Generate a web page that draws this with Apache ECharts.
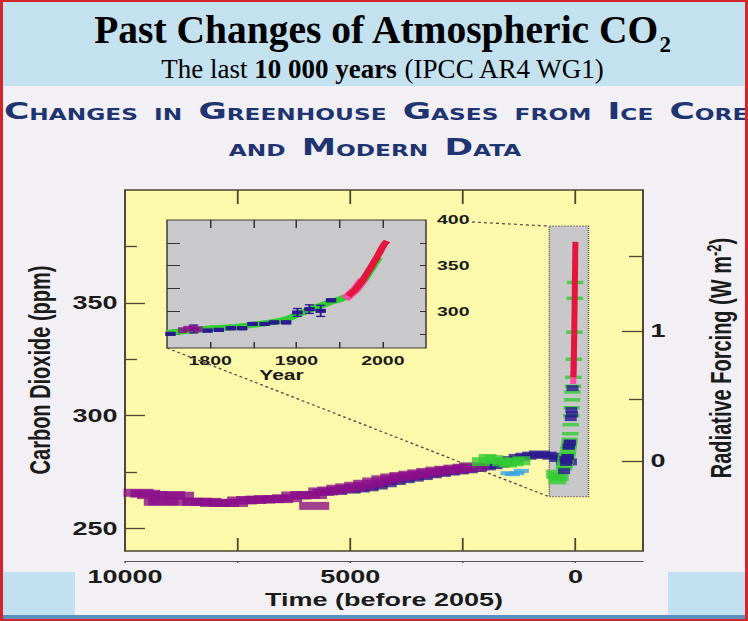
<!DOCTYPE html>
<html>
<head>
<meta charset="utf-8">
<script src="https://cdn.jsdelivr.net/npm/echarts@6/dist/echarts.min.js"></script>
<style>
    html, body { margin: 0; padding: 0; background: #f2f0f4; overflow: hidden; }
    /* the IPCC panel sits stretched sideways on the slide, so lay it out narrow and stretch it back */
    #main { width: 498.667px; height: 621px; transform: scaleX(1.5); transform-origin: 0 0; }
</style>
</head>
<body>
<div id="main"></div>
<script>
var S = 1.5;
var W = 748 / S;

// ---- main panel: ice core records, age in years before 2005, CO2 in ppm ----
var purpleAge = [9700, 9550, 9400, 9250, 9150, 9000, 8800, 8600, 8400, 8200, 8000, 7800, 7600, 7400, 7200, 7000, 6800, 6600, 6400, 6200, 6000, 5850, 5800, 5600, 5400, 5200, 5000, 4800, 4600, 4400, 4200, 4000, 3800, 3600, 3400, 3200, 3000, 2800, 2600, 2400, 2250];
var purpleCO2 = [265.8, 265.4, 264.8, 261.8, 262.0, 264.8, 264.5, 261.8, 261.8, 261.8, 261.3, 261.3, 261.3, 262.4, 262.6, 262.8, 263.0, 263.0, 263.4, 264.6, 264.8, 264.8, 260.0, 266.4, 266.8, 267.6, 268.2, 268.9, 269.8, 270.8, 271.8, 272.6, 273.2, 273.8, 274.4, 275.0, 275.6, 276.0, 276.5, 276.9, 277.5];

var navyAge = [5600, 5300, 5000, 4800, 4600, 4400, 4200, 4000, 3800, 3600, 3400, 3200, 3000, 2800, 2600, 2400, 2200, 2000, 1850, 1700, 1550, 1400, 1250, 1100, 950, 800, 650, 500, 350, 200];
var navyCO2 = [266.0, 266.5, 267.0, 267.5, 268.0, 268.8, 269.8, 270.8, 271.6, 272.3, 273.0, 273.8, 274.4, 275.0, 275.5, 276.0, 276.6, 277.3, 277.8, 278.5, 279.5, 280.5, 281.5, 282.0, 282.5, 283.0, 282.5, 282.0, 281.0, 279.5];

var greenAge = [2100, 1950, 1800, 1650, 1500, 1350, 1200, 450, 400, 350];
var greenCO2 = [279.6, 281.0, 280.5, 279.5, 279.0, 279.5, 280.0, 274.0, 271.5, 273.0];

var cyanAge = [1500, 1400, 1300, 1200];
var cyanCO2 = [274.5, 274.0, 274.5, 275.5];

// ---- inset: the last 250 years, calendar year, CO2 in ppm ----
var insetGreenYear = [1750, 1760, 1770, 1780, 1790, 1800, 1810, 1820, 1830, 1840, 1850, 1860, 1870, 1880, 1890, 1900, 1910, 1920, 1930, 1940, 1950, 1960, 1970, 1980, 1990, 1995];
var insetGreenCO2 = [276.5, 277.5, 278.5, 279.5, 280.5, 281.5, 282.0, 282.5, 283.0, 284.0, 285.5, 286.5, 288.0, 289.5, 292.0, 296.0, 300.0, 303.5, 307.0, 310.5, 313.0, 317.0, 325.0, 337.0, 352.0, 359.0];

var insetNavyYear = [1754, 1781, 1797, 1810, 1824, 1837, 1849, 1863, 1874, 1888, 1901, 1915, 1928, 1940];
var insetNavyCO2 = [275.4, 280.8, 279.0, 279.8, 281.6, 281.6, 286.3, 286.3, 288.0, 288.0, 298.9, 302.5, 300.6, 312.2];
var insetNavyErr = [1.5, 4.3, 1.5, 1.5, 1.5, 1.5, 1.5, 1.5, 1.5, 1.5, 4.3, 4.7, 6.1, 1.5];

var insetPurpleYear = [1768, 1774, 1780, 1786];
var insetPurpleCO2 = [279.5, 281.0, 281.5, 280.5];

var insetPinkYear = [1956, 1959, 1962, 1965, 1968, 1971, 1974, 1977];
var insetPinkCO2 = [314.0, 316.0, 318.5, 321.0, 323.5, 327.0, 331.0, 335.0];

var insetRedYear = [1960, 1963, 1966, 1969, 1972, 1975, 1978, 1981, 1984, 1987, 1990, 1993, 1996, 1999, 2002, 2005];
var insetRedCO2 = [317.0, 319.5, 322.0, 325.0, 328.5, 332.0, 336.0, 340.5, 345.0, 349.5, 354.5, 359.0, 364.0, 369.5, 374.0, 377.0];

// ---- ticks and labels ----
var ageTicks = [0, 2500, 5000, 7500];
var ageLabels = [0, 5000, 10000];
var co2Major = [250, 300, 350];
var co2Minor = [275, 325, 375];
var forcingMajor = [0, 1];
var forcingMinor = [0.5, 1.5];
var insetYearTicks = [1800, 1850, 1900, 1950, 2000];
var insetYearLabels = [1800, 1900, 2000];
var insetCO2Ticks = [275, 300, 325, 350, 375];
var insetCO2Labels = [300, 350, 400];

// grey box on the main panel that the inset blows up
var zoomBox = { fromAge: 580, toAge: -290, lo: 264, hi: 384 };

// CO2 radiative forcing, 5.35 ln(C/C0)
var C0 = 280;
function toPpm(f) { return C0 * Math.exp(f / 5.35); }
function toForcing(c) { return 5.35 * Math.log(c / C0); }

function pairs(a, b) { return a.map(function (v, i) { return [v, b[i]]; }); }
function toAge(years) { return years.map(function (y) { return 2005 - y; }); }

var frameColor = '#4a4632';
function lbl(size, extra) {
    var o = { fontFamily: 'Liberation Sans', fontWeight: 'bold', color: '#1b1b1b', fontSize: size };
    for (var k in extra) o[k] = extra[k];
    return o;
}
function plain(v) { return String(v); }

var chart = echarts.init(document.getElementById('main'), null, { renderer: 'svg', width: W, height: 621 });

var option = {
    animation: false,
    grid: [
        { left: 125 / S, right: W - 643 / S, top: 190, bottom: 70, show: true, backgroundColor: '#fdf9aa',
          borderColor: frameColor, borderWidth: 1.3, containLabel: false, outerBoundsMode: 'none' },
        { left: 167 / S, right: W - 426 / S, top: 220, bottom: 273, show: true, backgroundColor: '#c9c9cb',
          borderColor: '#3d3d3d', borderWidth: 1, containLabel: false, outerBoundsMode: 'none' }
    ],
    xAxis: [
        { gridIndex: 0, type: 'value', min: -1500, max: 10000, inverse: true, position: 'bottom',
          axisLine: { show: false, onZero: false },
          axisTick: { inside: true, length: 13, customValues: ageTicks, lineStyle: { color: frameColor, width: 1.2 } },
          axisLabel: { show: false }, splitLine: { show: false } },
        { gridIndex: 0, type: 'value', min: -1500, max: 10000, inverse: true, position: 'bottom', offset: 10,
          axisLine: { show: true, onZero: false, lineStyle: { color: '#555', width: 1 } },
          axisTick: { length: 2, customValues: ageTicks.concat([10000]), lineStyle: { color: '#555' } },
          axisLabel: lbl(18, { customValues: ageLabels, formatter: plain, margin: 7 }),
          name: 'Time (before 2005)', nameLocation: 'middle', nameGap: 29,
          nameTextStyle: lbl(18, {}), splitLine: { show: false } },
        { gridIndex: 0, type: 'value', min: -1500, max: 10000, inverse: true, position: 'top',
          axisLine: { show: false, onZero: false },
          axisTick: { inside: true, length: 14, customValues: ageTicks, lineStyle: { color: frameColor, width: 1.2 } },
          axisLabel: { show: false }, splitLine: { show: false } },
        { gridIndex: 1, type: 'value', min: 1750, max: 2050, position: 'bottom',
          axisLine: { show: false, onZero: false },
          axisTick: { inside: true, length: 6, customValues: insetYearTicks, lineStyle: { color: '#333' } },
          axisLabel: lbl(13, { customValues: insetYearLabels, formatter: plain, margin: 6 }),
          name: 'Year', nameLocation: 'middle', nameGap: 18,
          nameTextStyle: lbl(14, { padding: [0, 20, 0, 0] }), splitLine: { show: false } },
        { gridIndex: 1, type: 'value', min: 1750, max: 2050, position: 'top',
          axisLine: { show: false, onZero: false },
          axisTick: { inside: true, length: 8, customValues: insetYearTicks, lineStyle: { color: '#333' } },
          axisLabel: { show: false }, splitLine: { show: false } }
    ],
    yAxis: [
        { gridIndex: 0, type: 'value', min: 240, max: 400, position: 'left',
          axisLine: { show: false, onZero: false },
          axisTick: { inside: true, length: 20 / S, customValues: co2Major, lineStyle: { color: frameColor, width: 1.3 } },
          axisLabel: lbl(18, { customValues: co2Major, formatter: plain, margin: 5 }), splitLine: { show: false } },
        { gridIndex: 0, type: 'value', min: 240, max: 400, position: 'left',
          axisLine: { show: false, onZero: false },
          axisTick: { inside: true, length: 12 / S, customValues: co2Minor, lineStyle: { color: frameColor, width: 1.3 } },
          axisLabel: { show: false }, splitLine: { show: false } },
        { gridIndex: 0, type: 'value', min: 240, max: 400, position: 'right',
          axisLine: { show: false, onZero: false },
          axisTick: { inside: true, length: 21 / S, customValues: forcingMajor.map(toPpm), lineStyle: { color: frameColor, width: 1.3 } },
          axisLabel: lbl(18, { customValues: forcingMajor.map(toPpm), margin: 5,
              formatter: function (v) { return String(Math.round(toForcing(v) * 10) / 10); } }),
          splitLine: { show: false } },
        { gridIndex: 0, type: 'value', min: 240, max: 400, position: 'right',
          axisLine: { show: false, onZero: false },
          axisTick: { inside: true, length: 14 / S, customValues: forcingMinor.map(toPpm), lineStyle: { color: frameColor, width: 1.3 } },
          axisLabel: { show: false }, splitLine: { show: false } },
        { gridIndex: 1, type: 'value', min: 260, max: 400, position: 'left',
          axisLine: { show: false, onZero: false },
          axisTick: { inside: true, length: 13 / S, customValues: insetCO2Ticks, lineStyle: { color: '#333' } },
          axisLabel: { show: false }, splitLine: { show: false } },
        { gridIndex: 1, type: 'value', min: 260, max: 400, position: 'right',
          axisLine: { show: false, onZero: false },
          axisTick: { inside: true, length: 6 / S, customValues: insetCO2Ticks, lineStyle: { color: '#333' } },
          axisLabel: lbl(13, { customValues: insetCO2Labels, formatter: plain, margin: 11 / S }),
          splitLine: { show: false } }
    ],
    series: [
        // grey zoom box (carries only the mark area)
        { type: 'line', xAxisIndex: 0, yAxisIndex: 0, data: [], z: 1, silent: true,
          markArea: { silent: true,
              itemStyle: { color: '#c8c8ca', borderColor: '#555', borderWidth: 1, borderType: 'dotted' },
              data: [[{ coord: [zoomBox.fromAge, zoomBox.hi] }, { coord: [zoomBox.toAge, zoomBox.lo] }]] } },
        { type: 'scatter', xAxisIndex: 0, yAxisIndex: 0, data: pairs(navyAge, navyCO2),
          symbol: 'rect', symbolSize: [14, 7], itemStyle: { color: '#2a1a8f' }, z: 3 },
        { type: 'scatter', xAxisIndex: 0, yAxisIndex: 0, data: pairs(purpleAge, purpleCO2),
          symbol: 'rect', symbolSize: [20, 8], itemStyle: { color: '#8b108b' }, z: 4 },
        { type: 'scatter', xAxisIndex: 0, yAxisIndex: 0, data: pairs(cyanAge, cyanCO2),
          symbol: 'rect', symbolSize: [10, 4], itemStyle: { color: '#3aa3e6' }, z: 4 },
        { type: 'scatter', xAxisIndex: 0, yAxisIndex: 0, data: pairs(greenAge, greenCO2),
          symbol: 'rect', symbolSize: [12, 9], itemStyle: { color: '#33cc33' }, z: 5 },
        // the inset records squeezed into the last 255 years of the main panel
        { type: 'scatter', xAxisIndex: 0, yAxisIndex: 0, data: pairs(toAge(insetGreenYear), insetGreenCO2),
          symbol: 'rect', symbolSize: [11, 3.5], itemStyle: { color: '#2fcc2f' }, z: 5 },
        { type: 'scatter', xAxisIndex: 0, yAxisIndex: 0, data: pairs(toAge(insetNavyYear), insetNavyCO2),
          symbol: 'rect', symbolSize: [8, 6], itemStyle: { color: '#2a1a8f' }, z: 6 },
        { type: 'line', xAxisIndex: 0, yAxisIndex: 0, data: pairs(toAge(insetPinkYear), insetPinkCO2),
          showSymbol: false, lineStyle: { color: '#ff4aa5', width: 4 }, z: 7 },
        { type: 'line', xAxisIndex: 0, yAxisIndex: 0, data: pairs(toAge(insetRedYear), insetRedCO2),
          showSymbol: false, lineStyle: { color: '#e3173d', width: 4 }, z: 8 },

        // inset
        { type: 'line', xAxisIndex: 3, yAxisIndex: 4, data: pairs(insetGreenYear, insetGreenCO2),
          showSymbol: false, lineStyle: { color: '#33cc33', width: 6 }, z: 3 },
        { type: 'custom', xAxisIndex: 3, yAxisIndex: 4, z: 4, itemStyle: { color: '#2a1a8f' },
          data: insetNavyYear.map(function (y, i) { return [y, insetNavyCO2[i], insetNavyErr[i]]; }),
          renderItem: function (params, api) {
              var x = api.value(0), v = api.value(1), e = api.value(2);
              var top = api.coord([x, v + e]), bot = api.coord([x, v - e]), mid = api.coord([x, v]);
              var c = api.visual('color');
              var st = { stroke: c, lineWidth: 1.3 };
              return { type: 'group', children: [
                  { type: 'line', shape: { x1: top[0], y1: top[1], x2: bot[0], y2: bot[1] }, style: st },
                  { type: 'line', shape: { x1: top[0] - 3, y1: top[1], x2: top[0] + 3, y2: top[1] }, style: st },
                  { type: 'line', shape: { x1: bot[0] - 3, y1: bot[1], x2: bot[0] + 3, y2: bot[1] }, style: st },
                  { type: 'rect', shape: { x: mid[0] - 3.5, y: mid[1] - 2, width: 7, height: 4 }, style: { fill: c } }
              ] };
          } },
        { type: 'scatter', xAxisIndex: 3, yAxisIndex: 4, data: pairs(insetPurpleYear, insetPurpleCO2),
          symbol: 'rect', symbolSize: [6, 6], itemStyle: { color: '#8b108b' }, z: 4 },
        { type: 'line', xAxisIndex: 3, yAxisIndex: 4, data: pairs(insetPinkYear, insetPinkCO2),
          showSymbol: false, lineStyle: { color: '#ff4aa5', width: 7 }, z: 5 },
        { type: 'line', xAxisIndex: 3, yAxisIndex: 4, data: pairs(insetRedYear, insetRedCO2),
          showSymbol: false, lineStyle: { color: '#e3173d', width: 5 }, z: 6 }
    ],
    graphic: [
        { id: 'bg', type: 'rect', z: -10, shape: { x: 0, y: 0, width: W, height: 621 }, style: { fill: '#f2f0f4' } },
        { id: 'band', type: 'rect', z: -9, shape: { x: 0, y: 0, width: W, height: 86 }, style: { fill: '#c3e1ef' } },
        { id: 'blockL', type: 'rect', z: -9, shape: { x: 0, y: 572, width: 75 / S, height: 43 }, style: { fill: '#c3e0f0' } },
        { id: 'blockR', type: 'rect', z: -9, shape: { x: 668 / S, y: 572, width: 78 / S, height: 43 }, style: { fill: '#c3e0f0' } },
        { id: 'strip', type: 'rect', z: -9, shape: { x: 0, y: 615, width: W, height: 4 }, style: { fill: '#5d8fbd' } },
        { id: 'border', type: 'rect', z: 100, shape: { x: 1, y: 1, width: W - 2, height: 619 },
          style: { fill: 'none', stroke: '#d3262b', lineWidth: 2 } },
        { id: 'title', type: 'text', z: 50, x: 382 / S, y: 33, scaleX: 1 / S,
          style: { text: '{a|Past Changes of Atmospheric CO}{s|2}', align: 'center', verticalAlign: 'middle',
              rich: { a: { fontFamily: 'Liberation Serif', fontWeight: 'bold', fontSize: 39.5, fill: '#000', padding: [0, 0, 6, 0] },
                      s: { fontFamily: 'Liberation Serif', fontWeight: 'bold', fontSize: 23, fill: '#000', verticalAlign: 'bottom' } } } },
        { id: 'subtitle', type: 'text', z: 50, x: 383 / S, y: 69, scaleX: 1 / S,
          style: { text: '{r|The last }{b|10 000 years}{r| (IPCC AR4 WG1)}', align: 'center', verticalAlign: 'middle',
              rich: { r: { fontFamily: 'Liberation Serif', fontSize: 27, fill: '#000', verticalAlign: 'bottom' },
                      b: { fontFamily: 'Liberation Serif', fontWeight: 'bold', fontSize: 27, fill: '#000', verticalAlign: 'bottom' } } } },
        { id: 'head1', type: 'text', z: 50, x: 4 / S, y: 111,
          style: { text: '{L|C}{s|HANGES  IN  }{L|G}{s|REENHOUSE  }{L|G}{s|ASES  FROM  }{L|I}{s|CE  }{L|C}{s|ORE}',
              align: 'left', verticalAlign: 'middle',
              rich: { L: { fontFamily: 'DejaVu Sans', fontWeight: 'bold', fontSize: 23, fill: '#1f3572', verticalAlign: 'bottom' },
                      s: { fontFamily: 'DejaVu Sans', fontWeight: 'bold', fontSize: 15.5, fill: '#1f3572', verticalAlign: 'bottom' } } } },
        { id: 'head2', type: 'text', z: 50, x: 375 / S, y: 147,
          style: { text: '{s|AND  }{L|M}{s|ODERN  }{L|D}{s|ATA}',
              align: 'center', verticalAlign: 'middle',
              rich: { L: { fontFamily: 'DejaVu Sans', fontWeight: 'bold', fontSize: 23, fill: '#1f3572', verticalAlign: 'bottom' },
                      s: { fontFamily: 'DejaVu Sans', fontWeight: 'bold', fontSize: 15.5, fill: '#1f3572', verticalAlign: 'bottom' } } } },
        { id: 'yname', type: 'text', z: 50, x: 39 / S, y: 370, rotation: Math.PI / 2,
          style: { text: 'Carbon Dioxide (ppm)', align: 'center', verticalAlign: 'middle',
              fontFamily: 'Liberation Sans', fontWeight: 'bold', fontSize: 20, fill: '#1b1b1b' } },
        { id: 'rname', type: 'text', z: 50, x: 720 / S, y: 358, rotation: Math.PI / 2,
          style: { text: '{a|Radiative Forcing (W m}{s|-2}{a|)}', align: 'center', verticalAlign: 'middle',
              rich: { a: { fontFamily: 'Liberation Sans', fontWeight: 'bold', fontSize: 20, fill: '#1b1b1b' },
                      s: { fontFamily: 'Liberation Sans', fontWeight: 'bold', fontSize: 13, fill: '#1b1b1b', verticalAlign: 'top' } } } }
    ]
};
chart.setOption(option);

// dotted lines joining the inset to the grey box
var insetTopRight = chart.convertToPixel({ xAxisIndex: 3, yAxisIndex: 4 }, [2050, 400]);
var insetBottomLeft = chart.convertToPixel({ xAxisIndex: 3, yAxisIndex: 4 }, [1750, 260]);
var boxTop = chart.convertToPixel({ xAxisIndex: 0, yAxisIndex: 0 }, [zoomBox.fromAge, zoomBox.hi]);
var boxBottom = chart.convertToPixel({ xAxisIndex: 0, yAxisIndex: 0 }, [zoomBox.fromAge, zoomBox.lo]);
var dotted = { stroke: '#555', lineWidth: 1.3, lineDash: [2, 2] };
chart.setOption({
    graphic: [
        { id: 'link1', type: 'line', z: 40,
          shape: { x1: insetTopRight[0] + 46 / S, y1: insetTopRight[1] + 2, x2: boxTop[0], y2: boxTop[1] }, style: dotted },
        { id: 'link2', type: 'line', z: 40,
          shape: { x1: insetBottomLeft[0], y1: insetBottomLeft[1], x2: boxBottom[0], y2: boxBottom[1] }, style: dotted }
    ]
});
</script>
</body>
</html>
